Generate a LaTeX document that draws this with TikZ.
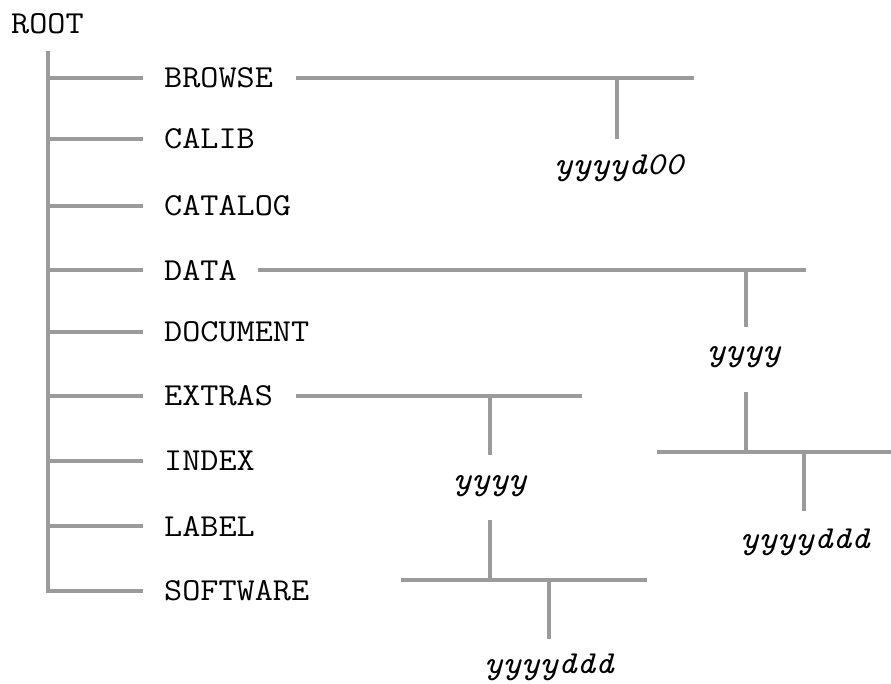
\documentclass[tikz,border=0pt]{standalone}
\usepackage{fontspec}
\usetikzlibrary{positioning, calc}

\definecolor{linegray}{HTML}{9B9B9B}
\newcommand{\widetext}[1]{\scalebox{1.1}[1]{#1}}

\begin{document}
\begin{tikzpicture}[x=1pt, y=-1pt,
        dirname/.style={font=\ttfamily\fontsize{32}{40}\selectfont\addfontfeatures{FakeBold=0.3}, inner sep=0pt, anchor=west},
        yearname/.style={font=\ttfamily\itshape\fontsize{32}{40}\selectfont\addfontfeatures{FakeBold=0.3}, inner sep=0pt},
        branch/.style={draw=linegray, line width=4pt}]
        \useasboundingbox (0,0) rectangle (891,683);

        % Nodes
        \node[dirname] (ROOT) at (11,24) {\widetext{ROOT}};
        \foreach \d/\y in {BROWSE/78, CALIB/139, CATALOG/206, DATA/270, DOCUMENT/332,
                EXTRAS/396, INDEX/461, LABEL/526, SOFTWARE/591} {
                \node[dirname] (\d) at (164,\y) {\widetext{\d}};
                \coordinate (s\d) at (48,\y);
                \coordinate (e\d) at (143,\y);
        }
        \coordinate (top) at (48,51);

        \node[yearname] (browseyr) at (619,168) {\widetext{yyyyd00}};
        \node[yearname] (datayr) at (744,357) {\widetext{yyyy}};
        \node[yearname] (dataday) at (805,542) {\widetext{yyyyddd}};
        \node[yearname] (extrayr) at (490,486) {\widetext{yyyy}};
        \node[yearname] (extraday) at (549,667) {\widetext{yyyyddd}};

        % Junctions
        \coordinate (b1) at (296,78);   \coordinate (b2) at (694,78);
        \coordinate (bj) at (617,78);   \coordinate (bd) at (617,139);
        \coordinate (d1) at (258,270);  \coordinate (d2) at (806,270);
        \coordinate (dj) at (746,270);  \coordinate (dd) at (746,327);
        \coordinate (du) at (746,392);  \coordinate (dk) at (746,452);
        \coordinate (d3) at (657,452);  \coordinate (d4) at (891,452);
        \coordinate (dm) at (804,452);  \coordinate (dn) at (804,511);
        \coordinate (x1) at (296,396);  \coordinate (x2) at (582,396);
        \coordinate (xj) at (490,396);  \coordinate (xd) at (490,455);
        \coordinate (xu) at (490,520);  \coordinate (xk) at (490,580);
        \coordinate (x3) at (401,580);  \coordinate (x4) at (647,580);
        \coordinate (xm) at (549,580);  \coordinate (xn) at (549,639);

        % Edges
        \draw[branch] (top) |- (eSOFTWARE);
        \foreach \d in {BROWSE, CALIB, CATALOG, DATA, DOCUMENT, EXTRAS, INDEX, LABEL} {
                \draw[branch] (s\d) -- (e\d);
        }
        \foreach \i/\j in {b1/b2, bj/bd, d1/d2, dj/dd, du/dk, d3/d4, dm/dn,
                x1/x2, xj/xd, xu/xk, x3/x4, xm/xn} {
                \draw[branch] (\i) -- (\j);
        }
\end{tikzpicture}
\end{document}
